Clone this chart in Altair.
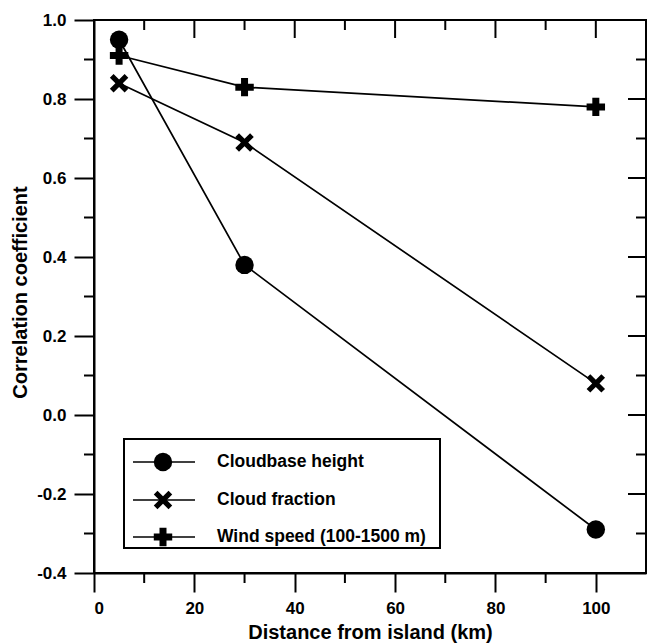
import altair as alt
import pandas as pd

# ---- data ----
distance_km = [5, 30, 100]
cloudbase_height = [0.95, 0.38, -0.29]
cloud_fraction = [0.84, 0.69, 0.08]
wind_speed = [0.91, 0.83, 0.78]
series_names = ["Cloudbase height", "Cloud fraction", "Wind speed (100-1500 m)"]

x_major = [0, 20, 40, 60, 80, 100]
x_minor = [10, 30, 50, 70, 90]
y_major = [-0.4, -0.2, 0.0, 0.2, 0.4, 0.6, 0.8, 1.0]
y_minor = [-0.3, -0.1, 0.1, 0.3, 0.5, 0.7, 0.9]

FONT = "Liberation Sans"
W, H = 552, 553

rows = []
for name, vals in zip(series_names, [cloudbase_height, cloud_fraction, wind_speed]):
    for xv, yv in zip(distance_km, vals):
        rows.append({"x": xv, "y": yv, "series": name})
df = pd.DataFrame(rows)

X_SHAPE = "M-1,-0.6L-0.6,-1L0,-0.4L0.6,-1L1,-0.6L0.4,0L1,0.6L0.6,1L0,0.4L-0.6,1L-1,0.6L-0.4,0Z"
PLUS_SHAPE = "M-1,-0.38L-0.38,-0.38L-0.38,-1L0.38,-1L0.38,-0.38L1,-0.38L1,0.38L0.38,0.38L0.38,1L-0.38,1L-0.38,0.38L-1,0.38Z"
shape_range = ["circle", X_SHAPE, PLUS_SHAPE]

xscale = alt.Scale(domain=[0, 110], nice=False, zero=False)
yscale = alt.Scale(domain=[-0.4, 1.0], nice=False, zero=False)

xaxis = alt.Axis(
    values=x_major, format="d", tickSize=19, tickWidth=2, domainWidth=2,
    domainColor="black", tickColor="black",
    labelPadding=8, labelFontSize=17, labelFont=FONT, labelFontWeight="bold",
    labelColor="black", title="Distance from island (km)", titleFont=FONT,
    titleFontSize=20, titleFontWeight="bold", titleColor="black",
    titleX=276, titleY=59, titleBaseline="middle", titleAlign="center",
    grid=False,
)
yaxis = alt.Axis(
    values=y_major, tickSize=20, tickWidth=2, domainWidth=2,
    domainColor="black", tickColor="black",
    labelExpr="replace(format(datum.value, '.1f'), '\u2212', '-')",
    labelPadding=8, labelFontSize=17, labelFont=FONT, labelFontWeight="bold",
    labelColor="black", title="Correlation coefficient", titleFont=FONT,
    titleFontSize=20, titleFontWeight="bold", titleColor="black",
    titleX=-74, titleY=272, titleAngle=-90, titleBaseline="middle",
    titleAlign="center", grid=False,
)

X = alt.X("x:Q", scale=xscale, axis=xaxis)
Y = alt.Y("y:Q", scale=yscale, axis=yaxis)

lines = alt.Chart(df).mark_line(color="black", strokeWidth=1.7).encode(
    x=X, y=Y, detail="series:N",
)

points = alt.Chart(df).mark_point(filled=True, color="black", opacity=1, size=340).encode(
    x=X, y=Y,
    shape=alt.Shape("series:N", scale=alt.Scale(domain=series_names, range=shape_range), legend=None),
)

# ---- extra ticks (minor ticks, and inward ticks on top / right) ----
def xticks(vals, y0, y1):
    d = pd.DataFrame({"x": vals})
    return alt.Chart(d).mark_rule(color="black", strokeWidth=2).encode(
        x=X, y=alt.value(y0), y2=alt.value(y1)
    )

def yticks(vals, x0, x1):
    d = pd.DataFrame({"y": vals})
    return alt.Chart(d).mark_rule(color="black", strokeWidth=2).encode(
        y=Y, x=alt.value(x0), x2=alt.value(x1)
    )

tick_layers = [
    xticks(x_major[1:], 0, 18),      # top major, inward
    xticks(x_minor, 0, 10),          # top minor, inward
    xticks(x_minor, H, H + 10),      # bottom minor, outward
    yticks(y_minor, -10, 0),         # left minor, outward
    yticks(y_major, W - 18, W),      # right major, inward
    yticks(y_minor, W - 10, W),      # right minor, inward
]

# ---- legend ----
one = pd.DataFrame({"k": [0]})
legend_box = alt.Chart(one).mark_rect(fill="white", stroke="black", strokeWidth=2).encode(
    x=alt.value(30), x2=alt.value(346), y=alt.value(419), y2=alt.value(528)
)
legend_layers = [legend_box]
row_y = [442, 480, 517]
for name, shp, ry in zip(series_names, shape_range, row_y):
    d = pd.DataFrame({"label": [name]})
    legend_layers.append(
        alt.Chart(d).mark_rule(color="black", strokeWidth=1.7).encode(
            x=alt.value(39), x2=alt.value(101), y=alt.value(ry)
        )
    )
    legend_layers.append(
        alt.Chart(d).mark_point(filled=True, color="black", opacity=1, size=340, shape=shp).encode(
            x=alt.value(69), y=alt.value(ry)
        )
    )
    legend_layers.append(
        alt.Chart(d).mark_text(
            align="left", baseline="middle", font=FONT, fontSize=17.5,
            fontWeight="bold", color="black"
        ).encode(x=alt.value(123), y=alt.value(ry), text="label:N")
    )

chart = alt.layer(lines, *tick_layers, points, *legend_layers).properties(
    width=W, height=H,
    background="white",
    autosize=alt.AutoSizeParams(type="none"),
    padding={"left": 94, "top": 20, "right": 1, "bottom": 70},
).configure_view(stroke="black", strokeWidth=2)

chart.save("out.html", embed_options={"renderer": "svg", "actions": False})
